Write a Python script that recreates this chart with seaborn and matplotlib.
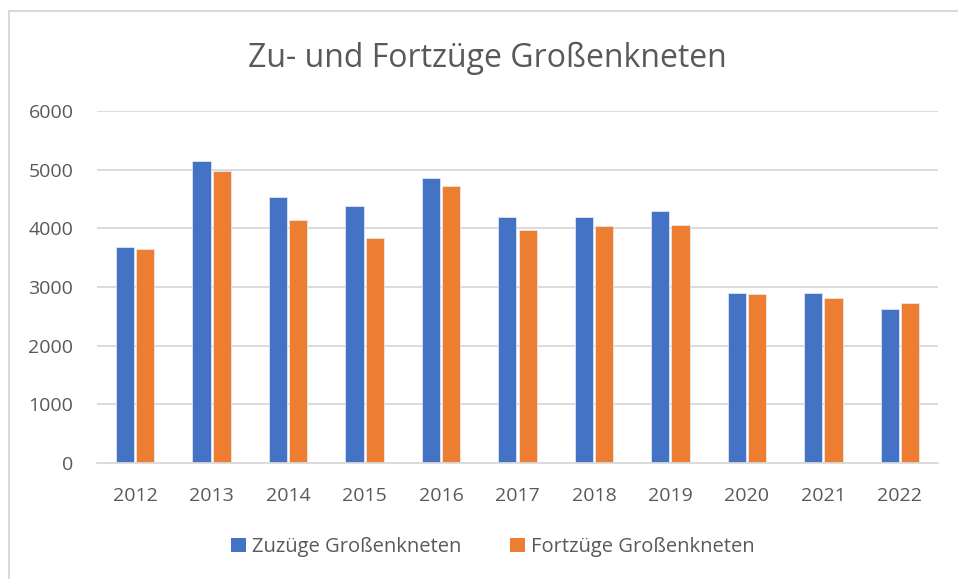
import matplotlib
matplotlib.use("Agg")
import matplotlib.pyplot as plt
import seaborn as sns
import pandas as pd
from matplotlib.lines import Line2D
from matplotlib.patches import Patch

years = ["2012", "2013", "2014", "2015", "2016", "2017", "2018", "2019", "2020", "2021", "2022"]
zuzuege = [3690, 5140, 4530, 4380, 4860, 4200, 4200, 4290, 2900, 2900, 2630]
fortzuege = [3650, 4970, 4150, 3840, 4730, 3970, 4040, 4060, 2880, 2810, 2720]
series_names = ["Zuzüge Großenkneten", "Fortzüge Großenkneten"]
title = "Zu- und Fortzüge Großenkneten"
yticks = [0, 1000, 2000, 3000, 4000, 5000, 6000]

df = pd.DataFrame({
    "Jahr": years * 2,
    "Wert": zuzuege + fortzuege,
    "Serie": [series_names[0]] * len(years) + [series_names[1]] * len(years),
})

sns.set_theme(style="white")
plt.rcParams["font.family"] = ["Open Sans", "DejaVu Sans"]

colors = ["#4472C4", "#ED7D31"]
text_color = "#595959"
grid_color = "#D9D9D9"

fig = plt.figure(figsize=(9.58, 5.79), dpi=100)
ax = fig.add_axes([97 / 958, 1 - 463 / 579, (938 - 97) / 958, (463 - 111) / 579])

sns.barplot(data=df, x="Jahr", y="Wert", hue="Serie", palette=colors,
            saturation=1, width=0.53, gap=0.1, ax=ax, legend=False,
            edgecolor="#E8EEF8", linewidth=0.5)

ax.set_ylim(0, 6000)
ax.set_xlim(-0.5, len(years) - 0.5)
ax.set_yticks(yticks)
ax.set_yticklabels([str(v) for v in yticks])
ax.set_xlabel("")
ax.set_ylabel("")
ax.yaxis.grid(True, color=grid_color, linewidth=1.3)
ax.set_axisbelow(True)
for s in ["top", "right", "left"]:
    ax.spines[s].set_visible(False)
ax.spines["bottom"].set_color(grid_color)
ax.spines["bottom"].set_linewidth(1.3)
ax.tick_params(axis="both", length=0, labelsize=14, colors=text_color)
ax.tick_params(axis="y", pad=17)
ax.tick_params(axis="x", pad=17)

fig.text(487 / 958, 1 - 58 / 579, title, ha="center", va="center",
         fontsize=23, color=text_color)

handles = [Patch(facecolor=c, edgecolor="none") for c in colors]
leg = fig.legend(handles, series_names, loc="center", bbox_to_anchor=(493 / 958, 1 - 547 / 579),
                 ncol=2, frameon=False, fontsize=14.5, handlelength=0.75, handleheight=0.75,
                 handletextpad=0.3, columnspacing=2.4)
for t in leg.get_texts():
    t.set_color(text_color)

# chart area border (top and left edges visible)
fig.add_artist(Line2D([9 / 958, 9 / 958], [0, 1 - 11 / 579], transform=fig.transFigure,
                      color=grid_color, linewidth=1.5))
fig.add_artist(Line2D([9 / 958, 1], [1 - 11 / 579, 1 - 11 / 579], transform=fig.transFigure,
                      color=grid_color, linewidth=1.5))

fig.savefig("out.png", dpi=100)
